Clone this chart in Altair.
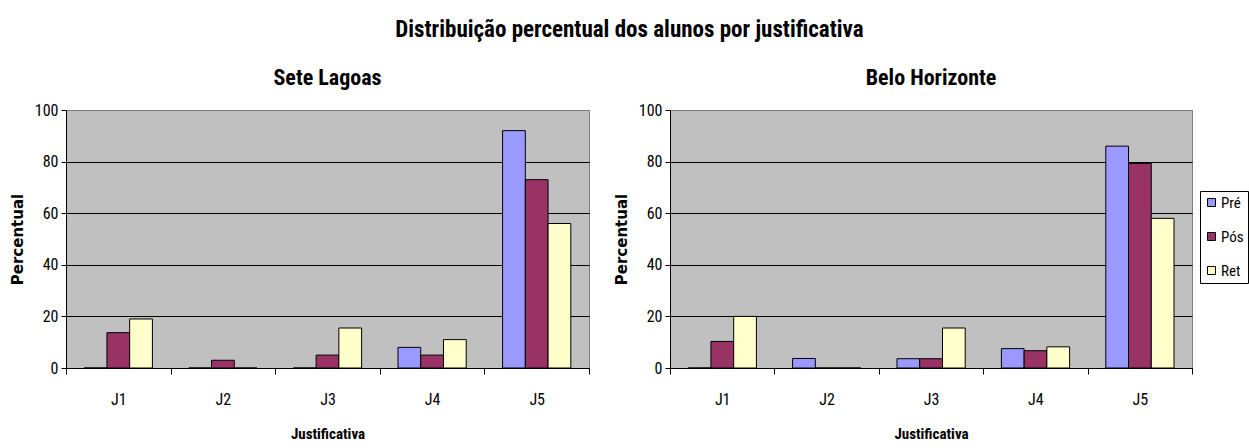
import altair as alt
import pandas as pd

categories = ["J1", "J2", "J3", "J4", "J5"]
series = ["Pré", "Pós", "Ret"]
colors = ["#9999FF", "#993366", "#FFFFCC"]

sete_pre = [0, 0, 0, 8, 92]
sete_pos = [13.7, 3, 5, 5, 73]
sete_ret = [19, 0, 15.5, 11, 56]

bh_pre = [0, 3.7, 3.6, 7.5, 86]
bh_pos = [10.3, 0, 3.6, 6.7, 79.3]
bh_ret = [20, 0, 15.5, 8.2, 58]

y_ticks = [0, 20, 40, 60, 80, 100]

NARROW = "'Liberation Sans Narrow', 'Arial Narrow', 'Roboto Condensed', sans-serif"
WIDE = "'DejaVu Sans', 'Liberation Sans', Arial, sans-serif"


def make_df(pre, pos, ret):
    rows = []
    for s, vals in zip(series, [pre, pos, ret]):
        for c, v in zip(categories, vals):
            rows.append({"Justificativa": c, "Serie": s, "Percentual": v})
    return pd.DataFrame(rows)


def panel(df, title, show_legend, width):
    if show_legend:
        legend = alt.Legend(
            title=None, orient="none", legendX=530, legendY=81,
            strokeColor="black", fillColor="white",
            padding=4, symbolType="square", symbolSize=64, symbolStrokeColor="black",
            symbolStrokeWidth=1, labelFont=NARROW, labelFontSize=15, rowPadding=18,
            labelOffset=2,
        )
    else:
        legend = None
    return alt.Chart(
        df,
        title=alt.TitleParams(title, fontSize=22, font=NARROW, fontWeight="bold",
                              anchor="middle", offset=12, color="black"),
    ).mark_bar(stroke="black", strokeWidth=1).encode(
        x=alt.X(
            "Justificativa:N", sort=categories,
            scale=alt.Scale(paddingInner=0, paddingOuter=0),
            axis=alt.Axis(
                title="Justificativa", labelAngle=0, tickBand="extent",
                domainColor="black", tickColor="black", tickSize=6,
                labelFont=NARROW, labelFontSize=16, labelColor="black",
                labelPadding=17, titleFont=NARROW, titleFontSize=15,
                titleFontWeight="bold", titleColor="black", titlePadding=19,
                grid=False,
            ),
        ),
        xOffset=alt.XOffset("Serie:N", sort=series,
                            scale=alt.Scale(paddingOuter=0.8, paddingInner=0)),
        y=alt.Y(
            "Percentual:Q", scale=alt.Scale(domain=[0, 100], nice=False),
            axis=alt.Axis(
                values=y_ticks, title="Percentual", grid=True,
                gridColor={"condition": {"test": "datum.value === 100", "value": "#808080"}, "value": "black"},
                gridWidth=1.2, domainColor="black", tickColor="black", tickSize=5,
                labelFont=NARROW, labelFontSize=16, labelColor="black", labelPadding=3,
                titleFont=WIDE, titleFontSize=15, titleFontWeight="bold",
                titleColor="black", titlePadding=9,
            ),
        ),
        color=alt.Color("Serie:N", sort=series,
                        scale=alt.Scale(domain=series, range=colors), legend=legend),
    ).properties(width=width, height=258)


left = panel(make_df(sete_pre, sete_pos, sete_ret), "Sete Lagoas", False, 523)
right = panel(make_df(bh_pre, bh_pos, bh_ret), "Belo Horizonte", True, 522)

chart = alt.hconcat(left, right, spacing=23).resolve_legend(
    color="independent"
).properties(
    title=alt.TitleParams(
        "Distribuição percentual dos alunos por justificativa",
        fontSize=23, font=NARROW, fontWeight="bold", anchor="middle",
        offset=25, color="black",
    ),
    padding={"left": 9, "top": 18, "right": 0, "bottom": 0},
    background="white",
).configure_view(
    fill="#C0C0C0", stroke="#808080", strokeWidth=1
)

chart.save("out.html", embed_options={"renderer": "svg", "actions": False})
